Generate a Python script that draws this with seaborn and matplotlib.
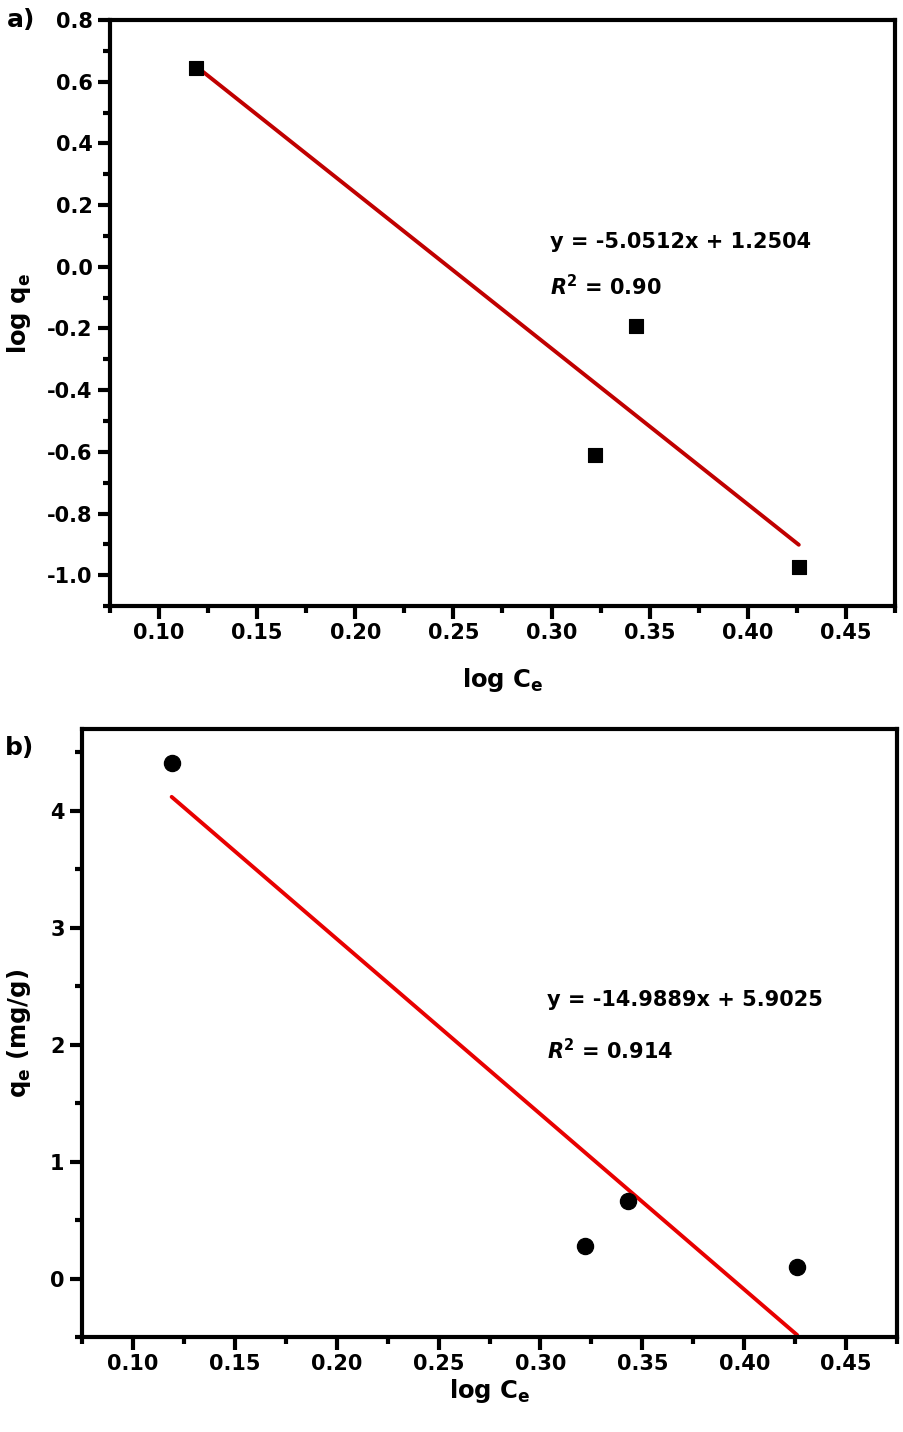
import numpy as np
import pandas as pd
import matplotlib
matplotlib.use("Agg")
import matplotlib.pyplot as plt
from matplotlib.ticker import MultipleLocator
import seaborn as sns

# panel a: log qe vs log Ce
log_ce = [0.119, 0.322, 0.343, 0.426]
log_qe = [0.645, -0.609, -0.192, -0.972]
slope_a, icpt_a = -5.0512, 1.2504

# panel b: qe vs log Ce
qe = [4.41, 0.28, 0.66, 0.10]
slope_b, icpt_b = -14.9889, 5.9025

sns.set_style("ticks")
plt.rcParams.update({
    "font.family": ["DejaVu Sans"],
    "font.weight": "bold",
    "axes.labelweight": "bold",
    "text.color": "black",
    "axes.labelcolor": "black",
    "axes.edgecolor": "black",
    "xtick.color": "black",
    "ytick.color": "black",
    "axes.unicode_minus": False,
    "axes.linewidth": 3.0,
    "xtick.major.width": 3.0,
    "ytick.major.width": 3.0,
    "xtick.minor.width": 3.0,
    "ytick.minor.width": 3.0,
    "xtick.major.size": 9,
    "ytick.major.size": 9,
    "xtick.minor.size": 5,
    "ytick.minor.size": 5,
    "xtick.direction": "out",
    "ytick.direction": "out",
    "xtick.labelsize": 15,
    "ytick.labelsize": 15,
    "mathtext.fontset": "dejavusans",
    "mathtext.default": "bf",
})

df = pd.DataFrame({"log_ce": log_ce, "log_qe": log_qe, "qe": qe})
x_fit = np.array([min(log_ce), max(log_ce)])
fit = pd.DataFrame({"x": x_fit, "ya": slope_a * x_fit + icpt_a,
                    "yb": slope_b * x_fit + icpt_b})

fig = plt.figure(figsize=(9.04, 14.32), dpi=100)
ax1 = fig.add_axes([0.1217, 0.5768, 0.8683, 0.4092])
ax2 = fig.add_axes([0.0907, 0.0663, 0.9016, 0.4247])

# a)
sns.lineplot(data=fit, x="x", y="ya", color="#c00000", lw=2.8, ax=ax1, zorder=2)
sns.scatterplot(data=df, x="log_ce", y="log_qe", marker="s", s=100,
                color="black", edgecolor="black", ax=ax1, zorder=3)
ax1.set_xlim(0.075, 0.475)
ax1.set_ylim(-1.1, 0.8)
ax1.yaxis.set_major_locator(MultipleLocator(0.2))
ax1.yaxis.set_minor_locator(MultipleLocator(0.1))
ax1.set_xlabel("log C$_\\mathbf{e}$", fontsize=17.5, labelpad=16)
ax1.set_ylabel("log q$_\\mathbf{e}$", fontsize=17.5, labelpad=10)
ax1.text(0.299, 0.079, "y = -5.0512x + 1.2504", fontsize=15, va="center")
ax1.text(0.299, -0.065, "$\\mathbfit{R}^\\mathbf{2}$ = 0.90", fontsize=15, va="center")
fig.text(0.008, 0.986, "a)", fontsize=18, va="center", ha="left")

# b)
sns.lineplot(data=fit, x="x", y="yb", color="#e80000", lw=2.8, ax=ax2, zorder=2)
sns.scatterplot(data=df, x="log_ce", y="qe", marker="o", s=135,
                color="black", edgecolor="black", ax=ax2, zorder=3)
ax2.set_xlim(0.075, 0.475)
ax2.set_ylim(-0.5, 4.7)
ax2.yaxis.set_major_locator(MultipleLocator(1))
ax2.yaxis.set_minor_locator(MultipleLocator(0.5))
ax2.set_xlabel("log C$_\\mathbf{e}$", fontsize=17.5, labelpad=2)
ax2.set_ylabel("q$_\\mathbf{e}$ (mg/g)", fontsize=17.5, labelpad=12)
ax2.text(0.303, 2.38, "y = -14.9889x + 5.9025", fontsize=15, va="center")
ax2.text(0.303, 1.95, "$\\mathbfit{R}^\\mathbf{2}$ = 0.914", fontsize=15, va="center")
fig.text(0.005, 0.478, "b)", fontsize=18, va="center", ha="left")

for ax in (ax1, ax2):
    ax.xaxis.set_major_locator(MultipleLocator(0.05))
    ax.xaxis.set_minor_locator(MultipleLocator(0.025))
    ax.xaxis.set_major_formatter(plt.FormatStrFormatter("%.2f"))
    for sp in ax.spines.values():
        sp.set_visible(True)
        sp.set_linewidth(3.0)
    ax.tick_params(top=False, right=False, which="both")
    ax.grid(False)

fig.savefig("out.png", dpi=100)
